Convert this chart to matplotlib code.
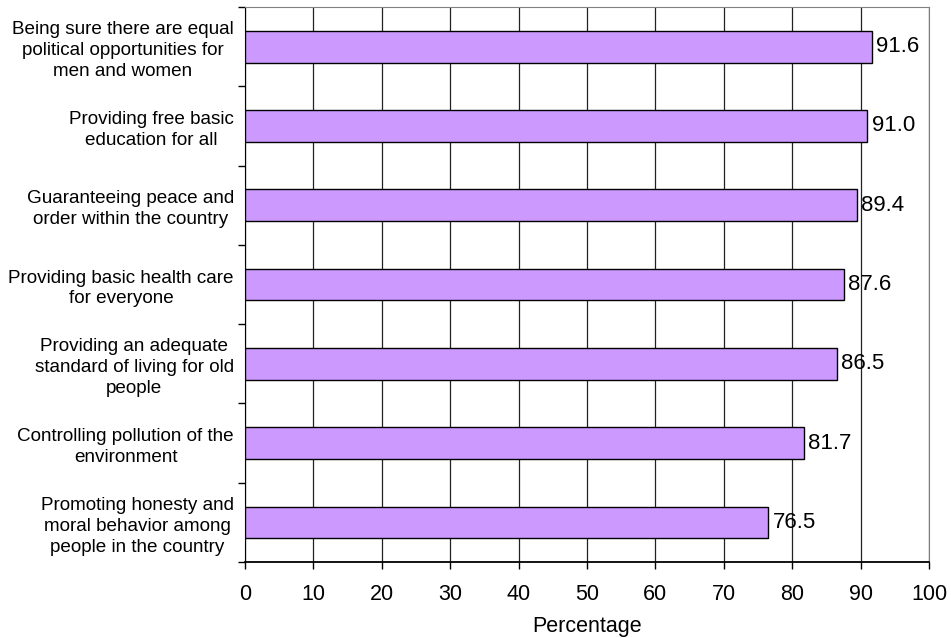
import matplotlib.pyplot as plt
import numpy as np

categories = [
    "Being sure there are equal\npolitical opportunities for\nmen and women",
    "Providing free basic\neducation for all",
    "Guaranteeing peace and\norder within the country",
    "Providing basic health care\nfor everyone",
    "Providing an adequate\nstandard of living for old\npeople",
    "Controlling pollution of the\nenvironment",
    "Promoting honesty and\nmoral behavior among\npeople in the country",
]
values = [91.6, 91.0, 89.4, 87.6, 86.5, 81.7, 76.5]
xticks = list(range(0, 101, 10))

plt.rcParams['font.family'] = ['Liberation Sans', 'DejaVu Sans']

fig = plt.figure(figsize=(9.51, 6.38), dpi=100)
ax = fig.add_axes([0.2576, 0.1191, 0.7193, 0.8699])

y = np.arange(len(categories))
bars = ax.barh(y, values, height=0.4, color='#CC99FF', edgecolor='black',
               linewidth=1.0, zorder=3)
for b, v in zip(bars, values):
    ax.text(b.get_width() + 0.6, b.get_y() + b.get_height() / 2, f"{v:.1f}",
            va='center', ha='left', fontsize=16, zorder=4)

ax.set_xlim(0, 100)
ax.set_ylim(len(categories) - 0.5, -0.5)
ax.set_xticks(xticks)
ax.set_xticklabels([str(t) for t in xticks], fontsize=15.5)
ax.set_xlabel("Percentage", fontsize=15.5, labelpad=8)

# category labels on major ticks, tick marks on the boundaries
ax.set_yticks(y)
ax.set_yticklabels(categories, fontsize=13.6)
for lbl in ax.get_yticklabels():
    lbl.set_multialignment('center')
    lbl.set_linespacing(1.3)
ax.set_yticks(np.arange(len(categories) + 1) - 0.5, minor=True)
ax.tick_params(axis='y', which='major', length=0, pad=8)
ax.tick_params(axis='y', which='minor', length=5, width=1, direction='out')
ax.tick_params(axis='x', length=5, width=1, direction='out', pad=11)

ax.grid(axis='x', color='#222222', linewidth=0.9, zorder=0)
ax.set_axisbelow(True)
ax.spines['left'].set_color('black')
ax.spines['bottom'].set_color('black')
ax.spines['bottom'].set_linewidth(1.3)
ax.spines['top'].set_color('#808080')
ax.spines['right'].set_color('#808080')

fig.savefig("out.png", dpi=100)
